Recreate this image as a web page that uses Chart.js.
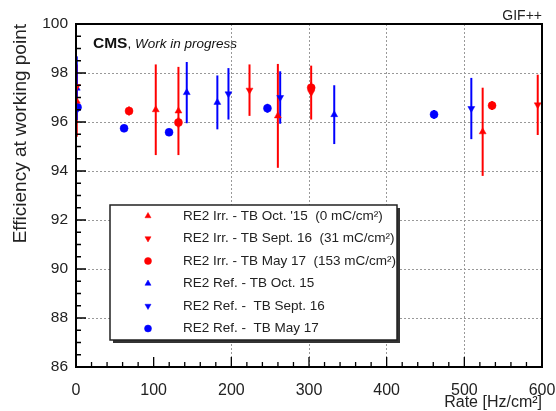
<!DOCTYPE html>
<html>
<head>
<meta charset="utf-8">
<script src="https://cdn.jsdelivr.net/npm/chart.js@4/dist/chart.umd.min.js"></script>
<style>
  html, body { margin: 0; padding: 0; background: #fff; }
  #wrap { width: 556px; height: 411px; }
</style>
</head>
<body>
<div id="wrap"><canvas id="eff" width="556" height="411"></canvas></div>
<script>
// RE2 irradiated chamber, three test beams
const irrOct15Rate  = [1, 102.7, 131.9, 259.9, 523.6];
const irrOct15Eff   = [96.85, 96.5, 96.45, 96.25, 95.6];
const irrOct15Err   = [1.45, 1.85, 1.8, 2.12, 1.8];

const irrSep16Rate  = [1, 223.4, 302.8, 594.5];
const irrSep16Eff   = [97.45, 97.3, 97.2, 96.7];
const irrSep16Err   = [0.9, 1.05, 1.1, 1.23];

const irrMay17Rate  = [68.3, 131.9, 302.8, 535.7];
const irrMay17Eff   = [96.45, 95.98, 97.4, 96.67];
const irrMay17Err   = [0.18, 0.2, 0.22, 0.18];

// RE2 reference chamber
const refOct15Rate  = [1, 142.6, 182, 332.5];
const refOct15Eff   = [97.38, 97.2, 96.8, 96.3];
const refOct15Err   = [1.3, 1.25, 1.1, 1.2];

const refSep16Rate  = [196.3, 262.9, 509];
const refSep16Eff   = [97.15, 97.0, 96.55];
const refSep16Err   = [1.05, 1.07, 1.25];

const refMay17Rate  = [2, 61.9, 119.8, 246.5, 461];
const refMay17Eff   = [96.6, 95.74, 95.58, 96.56, 96.31];
const refMay17Err   = [0.2, 0.15, 0.15, 0.18, 0.18];

const seriesLabels = [
  "RE2 Irr. - TB Oct. '15  (0 mC/cm\u00B2)",
  "RE2 Irr. - TB Sept. 16  (31 mC/cm\u00B2)",
  "RE2 Irr. - TB May 17  (153 mC/cm\u00B2)",
  "RE2 Ref. - TB Oct. 15",
  "RE2 Ref. -  TB Sept. 16",
  "RE2 Ref. -  TB May 17"
];

const xRange = [0, 600];
const yRange = [86, 100];

const RED = '#ff0000';
const BLUE = '#0000ff';

function points(rate, eff, err) {
  return rate.map((r, i) => ({ x: r, y: eff[i], err: err[i] }));
}

function series(label, data, color, style, rotation) {
  return {
    label, data,
    pointStyle: style,
    rotation: rotation,
    pointRadius: 4,
    pointHoverRadius: 4,
    backgroundColor: color,
    borderColor: color,
    borderWidth: 0.5,
    showLine: false
  };
}

const datasets = [
  series(seriesLabels[0], points(irrOct15Rate, irrOct15Eff, irrOct15Err), RED, 'triangle', 0),
  series(seriesLabels[1], points(irrSep16Rate, irrSep16Eff, irrSep16Err), RED, 'triangle', 180),
  series(seriesLabels[2], points(irrMay17Rate, irrMay17Eff, irrMay17Err), RED, 'circle', 0),
  series(seriesLabels[3], points(refOct15Rate, refOct15Eff, refOct15Err), BLUE, 'triangle', 0),
  series(seriesLabels[4], points(refSep16Rate, refSep16Eff, refSep16Err), BLUE, 'triangle', 180),
  series(seriesLabels[5], points(refMay17Rate, refMay17Eff, refMay17Err), BLUE, 'circle', 0)
];

const FONT = '"Liberation Sans", Arial, Helvetica, sans-serif';

// vertical error bars, drawn under the markers
const errorBars = {
  id: 'errorBars',
  beforeDatasetsDraw(chart) {
    const { ctx, scales: { x, y } } = chart;
    ctx.save();
    ctx.lineWidth = 2;
    chart.data.datasets.forEach((ds, i) => {
      if (!chart.isDatasetVisible(i)) return;
      ctx.strokeStyle = ds.borderColor;
      ds.data.forEach(p => {
        const px = x.getPixelForValue(p.x);
        ctx.beginPath();
        ctx.moveTo(px, y.getPixelForValue(p.y - p.err));
        ctx.lineTo(px, y.getPixelForValue(p.y + p.err));
        ctx.stroke();
      });
    });
    ctx.restore();
  }
};

// frame, inward ticks, legend box and labels
const decorations = {
  id: 'decorations',
  afterDraw(chart) {
    const { ctx, chartArea: a, scales: { x, y } } = chart;
    ctx.save();

    // inward ticks
    ctx.strokeStyle = '#000';
    ctx.lineWidth = 1.3;
    ctx.beginPath();
    for (let v = xRange[0]; v <= xRange[1]; v += 20) {
      const px = x.getPixelForValue(v);
      const len = v % 100 === 0 ? 10 : 5;
      ctx.moveTo(px, a.bottom);
      ctx.lineTo(px, a.bottom - len);
    }
    for (let v = yRange[0]; v <= yRange[1] + 1e-9; v += 0.5) {
      const py = y.getPixelForValue(v);
      const len = Math.abs(v % 2) < 1e-9 ? 10 : 5;
      ctx.moveTo(a.left, py);
      ctx.lineTo(a.left + len, py);
    }
    ctx.stroke();

    // frame
    ctx.lineWidth = 2;
    ctx.strokeRect(a.left, a.top, a.right - a.left, a.bottom - a.top);

    // legend box
    const L = 110, T = 205, W = 287, H = 135;
    ctx.fillStyle = '#333';
    ctx.fillRect(L + 3, T + 3, W, H);
    ctx.fillStyle = '#fff';
    ctx.fillRect(L, T, W, H);
    ctx.strokeStyle = '#222';
    ctx.lineWidth = 1.5;
    ctx.strokeRect(L, T, W, H);

    ctx.font = '13.5px ' + FONT;
    ctx.textBaseline = 'middle';
    ctx.textAlign = 'left';
    chart.data.datasets.forEach((ds, i) => {
      const yy = T + 11 + i * 22.5;
      ctx.fillStyle = ds.backgroundColor;
      ctx.strokeStyle = ds.borderColor;
      ctx.lineWidth = 0.5;
      Chart.helpers.drawPoint(ctx, {
        pointStyle: ds.pointStyle, rotation: ds.rotation, radius: 3.5, borderWidth: 0.5
      }, L + 38, yy);
      ctx.fillStyle = '#222';
      ctx.fillText(ds.label, L + 73, yy);
    });

    // experiment tag
    ctx.textBaseline = 'alphabetic';
    ctx.fillStyle = '#111';
    ctx.font = 'bold 15.5px ' + FONT;
    ctx.fillText('CMS', 93, 48);
    const w = ctx.measureText('CMS').width;
    ctx.font = '13.5px ' + FONT;
    ctx.fillText(', ', 93 + w, 48);
    const w2 = ctx.measureText(', ').width;
    ctx.font = 'italic 13.5px ' + FONT;
    ctx.fillText('Work in progress', 93 + w + w2, 48);

    // facility label
    ctx.font = '14px ' + FONT;
    ctx.textAlign = 'right';
    ctx.fillStyle = '#222';
    ctx.fillText('GIF++', a.right, 20);

    ctx.restore();
  }
};

const gridColor = ctx => (ctx.tick && (ctx.tick.value === xRange[0] || ctx.tick.value === xRange[1] ||
  ctx.tick.value === yRange[0] || ctx.tick.value === yRange[1])) ? 'rgba(0,0,0,0)' : '#999';

new Chart(document.getElementById('eff'), {
  type: 'scatter',
  data: { datasets },
  options: {
    responsive: false,
    animation: false,
    devicePixelRatio: 1,
    layout: { padding: { top: 24, right: 14, left: 0, bottom: 0 } },
    plugins: {
      legend: { display: false },
      tooltip: { enabled: false }
    },
    scales: {
      x: {
        type: 'linear',
        min: xRange[0], max: xRange[1],
        afterFit: s => { s.height = 44; s.paddingLeft = 0; s.paddingRight = 0; },
        ticks: { stepSize: 100, padding: 14, color: '#222', font: { family: FONT, size: 16 } },
        grid: { color: gridColor, lineWidth: 1, drawTicks: false, tickLength: 0 },
        border: { display: false, dash: [2, 2] },
        title: {
          display: true, text: 'Rate [Hz/cm\u00B2]', align: 'end', color: '#222',
          font: { family: FONT, size: 16, lineHeight: 1 }, padding: { top: 0, bottom: 0 }
        }
      },
      y: {
        type: 'linear',
        min: yRange[0], max: yRange[1],
        afterFit: s => { s.width = 76; s.paddingTop = 0; s.paddingBottom = 0; },
        ticks: { stepSize: 2, padding: 8, color: '#222', font: { family: FONT, size: 15.5 } },
        grid: { color: gridColor, lineWidth: 1, drawTicks: false, tickLength: 0 },
        border: { display: false, dash: [2, 2] },
        title: {
          display: true, text: 'Efficiency at working point', align: 'end', color: '#222',
          font: { family: FONT, size: 19, lineHeight: 1 }, padding: { top: 11, bottom: 0 }
        }
      }
    }
  },
  plugins: [errorBars, decorations]
});
</script>
</body>
</html>
